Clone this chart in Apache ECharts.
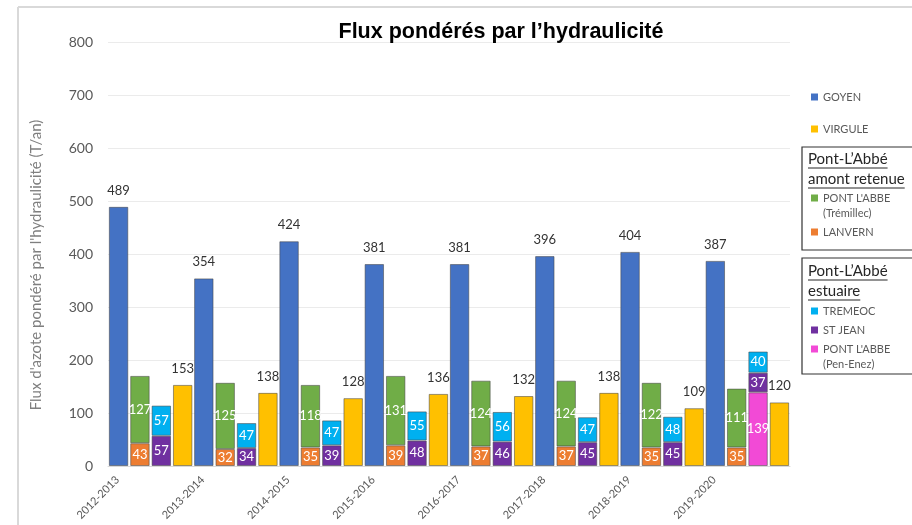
<!DOCTYPE html>
<html>
<head>
<meta charset="utf-8">
<script src="https://cdn.jsdelivr.net/npm/echarts@6/dist/echarts.min.js"></script>
<style>html,body{margin:0;padding:0;background:#fff;}#c{width:912px;height:525px;}</style>
</head>
<body>
<div id="c"></div>
<script>
const categories = ['2012-2013','2013-2014','2014-2015','2015-2016','2016-2017','2017-2018','2018-2019','2019-2020'];
const goyen    = [489, 354, 424, 381, 381, 396, 404, 387];
const tremillec = [127, 125, 118, 131, 124, 124, 122, 111];
const lanvern  = [43, 32, 35, 39, 37, 37, 35, 35];
const penEnez  = [null, null, null, null, null, null, null, 139];
const stJean   = [57, 34, 39, 48, 46, 45, 45, 37];
const tremeoc  = [57, 47, 47, 55, 56, 47, 48, 40];
const virgule  = [153, 138, 128, 136, 132, 138, 109, 120];
const yMin = 0, yMax = 800, yStep = 100;

const names = {
  goyen: 'GOYEN',
  virgule: 'VIRGULE',
  trem: "PONT L'ABBE\n(Trémillec)",
  lanvern: 'LANVERN',
  tremeoc: 'TREMEOC',
  stjean: 'ST JEAN',
  pen: "PONT L'ABBE\n(Pen-Enez)"
};
const colors = {
  goyen: '#4472C4', virgule: '#FFC000', trem: '#70AD47', lanvern: '#ED7D31',
  tremeoc: '#00B0F0', stjean: '#7030A0', pen: '#F24AD6'
};

const FONT = 'Lato, "Open Sans", sans-serif';
const border = { borderColor: 'rgba(70,70,70,0.55)', borderWidth: 1 };
const topLabel = { show: true, position: 'top', distance: 10, color: '#333', fontSize: 13, fontFamily: FONT };
const inLabel = { show: true, position: 'inside', color: '#fff', fontSize: 13, fontFamily: FONT };

function bar(key, data, stack, label) {
  const s = {
    name: names[key], type: 'bar', data: data, xAxisIndex: 0, yAxisIndex: 0,
    itemStyle: Object.assign({ color: colors[key] }, border),
    label: label,
    barGap: '10%', barCategoryGap: '2%'
  };
  if (stack) s.stack = stack;
  return s;
}

const series = [
  bar('goyen', goyen, null, topLabel),
  bar('lanvern', lanvern, 'amont', inLabel),
  bar('trem', tremillec, 'amont', inLabel),
  bar('pen', penEnez, 'estuaire', inLabel),
  bar('stjean', stJean, 'estuaire', inLabel),
  bar('tremeoc', tremeoc, 'estuaire', inLabel),
  bar('virgule', virgule, null, topLabel)
];

// legends: one per entry, placed vertically
const legendText = { color: '#595959', fontSize: 11, fontFamily: FONT, lineHeight: 15 };
function leg(key, iconY, multi) {
  const l = {
    data: [names[key]],
    orient: 'vertical', left: 811, top: multi ? iconY - 22.5 : iconY - 7.5, padding: 0,
    itemWidth: 7, itemHeight: 7, icon: 'rect', itemStyle: { borderWidth: 0 },
    textStyle: legendText
  };
  if (multi) l.formatter = function (n) { return ' \n' + n; };
  return l;
}
const legends = [
  leg('goyen', 97), leg('virgule', 129),
  leg('trem', 198, true), leg('lanvern', 232),
  leg('tremeoc', 311), leg('stjean', 330), leg('pen', 349, true)
];

// measure text for underlines
const cv = document.createElement('canvas').getContext('2d');
function tw(t, font) { cv.font = font; return cv.measureText(t).width; }
const boxFont = '15px Lato';
function boxTitle(lines, x, y0) {
  const els = [];
  lines.forEach(function (t, i) {
    const y = y0 + i * 20;
    els.push({ type: 'text', x: x, y: y, z: 10, style: { text: t, font: boxFont, fill: '#262626', textVerticalAlign: 'middle' } });
    els.push({ type: 'line', z: 10, shape: { x1: x, y1: y + 9, x2: x + tw(t, boxFont), y2: y + 9 }, style: { stroke: '#262626', lineWidth: 1 } });
  });
  return els;
}

const graphic = [
  { type: 'line', shape: { x1: 18, y1: 7, x2: 912, y2: 7 }, style: { stroke: '#d9d9d9', lineWidth: 2 } },
  { type: 'line', shape: { x1: 18, y1: 7, x2: 18, y2: 525 }, style: { stroke: '#d9d9d9', lineWidth: 2 } },
  { type: 'rect', z: 1, shape: { x: 802, y: 147, width: 130, height: 103 }, style: { fill: '#fff', stroke: '#333', lineWidth: 1.2 } },
  { type: 'rect', z: 1, shape: { x: 802, y: 258, width: 130, height: 116 }, style: { fill: '#fff', stroke: '#333', lineWidth: 1.2 } }
].concat(boxTitle(['Pont-L’Abbé', 'amont retenue'], 808, 159))
 .concat(boxTitle(['Pont-L’Abbé', 'estuaire'], 808, 271));

const chart = echarts.init(document.getElementById('c'), null, { renderer: 'canvas' });
chart.setOption({
  animation: false,
  backgroundColor: '#fff',
  title: {
    text: 'Flux pondérés par l’hydraulicité', left: 496, top: 16, textAlign: 'center',
    textStyle: { fontFamily: '"Liberation Sans", Arial, sans-serif', fontWeight: 'bold', fontSize: 21.5, color: '#000' }
  },
  legend: legends,
  graphic: graphic,
  grid: [
    { left: 108, right: 122, top: 42, bottom: 59 },
    { left: 75, right: 155, top: 42, bottom: 59 }
  ],
  xAxis: [
    { type: 'category', gridIndex: 0, data: categories,
      axisLine: { lineStyle: { color: '#d9d9d9' } }, axisTick: { show: false }, axisLabel: { show: false } },
    { type: 'category', gridIndex: 1, data: categories,
      axisLine: { show: false }, axisTick: { show: false },
      axisLabel: { rotate: 45, margin: 12, color: '#595959', fontSize: 11, fontFamily: FONT } }
  ],
  yAxis: [
    { type: 'value', gridIndex: 0, min: yMin, max: yMax, interval: yStep,
      name: "Flux d'azote pondéré par l'hydraulicité (T/an)", nameLocation: 'middle', nameGap: 64,
      nameTextStyle: { color: '#7f7f7f', fontSize: 15, fontFamily: FONT, padding: [0, 22, 0, 0] },
      axisLine: { show: false }, axisTick: { show: false },
      axisLabel: { color: '#595959', fontSize: 14, fontFamily: FONT, margin: 15 },
      splitLine: { lineStyle: { color: '#ebebeb' } } },
    { type: 'value', gridIndex: 1, min: yMin, max: yMax, show: false, splitLine: { show: false } }
  ],
  series: series
});
</script>
</body>
</html>
